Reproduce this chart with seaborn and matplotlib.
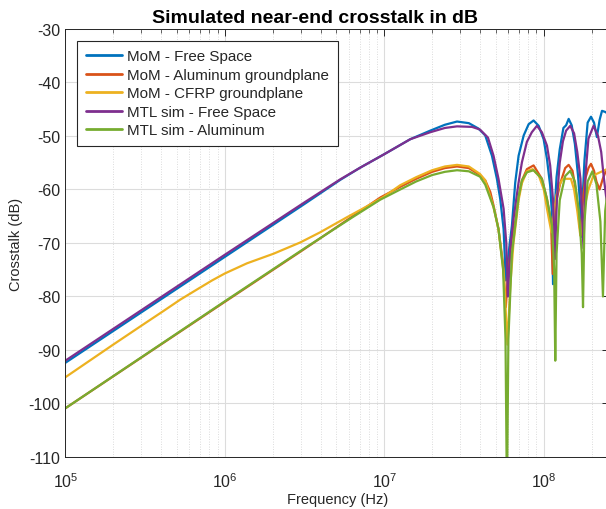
import numpy as np
import pandas as pd
import matplotlib
matplotlib.use("Agg")
import matplotlib.pyplot as plt
import seaborn as sns
from matplotlib.ticker import LogLocator, NullFormatter

# ---- data (log10 of frequency in Hz, crosstalk in dB) ----
series_names = ["MoM - Free Space", "MoM - Aluminum groundplane",
                "MoM - CFRP groundplane", "MTL sim - Free Space", "MTL sim - Aluminum"]
colors = ["#0072BD", "#D95319", "#EDB120", "#7E2F8E", "#77AC30"]

logf_mom_free = [5.0, 6.0, 6.5, 6.724, 6.85, 7.0, 7.163, 7.288, 7.38, 7.456, 7.53, 7.59,
                 7.633, 7.675, 7.706, 7.727, 7.748, 7.762, 7.785, 7.80, 7.821, 7.842, 7.874,
                 7.905, 7.936, 7.968, 7.999, 8.02, 8.04, 8.05, 8.058, 8.068, 8.08, 8.10,
                 8.123, 8.14, 8.156, 8.175, 8.195, 8.215, 8.226, 8.234, 8.243, 8.255, 8.275,
                 8.296, 8.315, 8.333, 8.35, 8.365, 8.385, 8.41]
db_mom_free = [-92.4, -72.6, -62.7, -58.2, -55.9, -53.4, -50.6, -49.0, -47.9, -47.3, -47.6, -48.6,
               -49.9, -53.7, -58.0, -61.8, -67.4, -77.0, -70.5, -66.8, -58.7, -53.7, -49.9,
               -47.8, -47.1, -48.1, -50.6, -54.3, -59.3, -64.0, -77.7, -64.0, -57.7, -52.5,
               -48.5, -48.0, -46.8, -48.0, -51.5, -57.5, -62.0, -68.9, -62.0, -54.6, -47.5,
               -46.4, -47.5, -50.2, -47.0, -45.3, -45.5, -46.0]

logf_mom_alu = [5.0, 6.0, 6.5, 6.975, 7.1, 7.2, 7.3, 7.38, 7.456, 7.53, 7.60, 7.633, 7.665,
                7.685, 7.716, 7.745, 7.762, 7.775, 7.80, 7.821, 7.842, 7.863, 7.894, 7.936,
                7.988, 8.02, 8.045, 8.056, 8.065, 8.08, 8.102, 8.134, 8.156, 8.18, 8.20,
                8.215, 8.232, 8.245, 8.26, 8.28, 8.296, 8.315, 8.33, 8.35, 8.37, 8.39, 8.41]
db_mom_alu = [-100.9, -81.0, -71.1, -61.5, -59.5, -58.0, -56.7, -56.0, -55.7, -56.0, -57.3, -58.3, -60.5,
              -63.0, -67.4, -74.0, -82.0, -76.0, -69.0, -66.0, -61.4, -58.3, -56.2, -55.5,
              -58.0, -61.8, -66.0, -75.8, -68.0, -62.0, -59.0, -56.0, -55.4, -56.5, -60.0,
              -64.0, -68.6, -62.0, -58.0, -56.0, -55.2, -56.5, -58.5, -60.0, -58.0, -56.5, -56.0]

logf_mom_cfrp = [5.0, 5.3, 5.5, 5.616, 5.72, 5.825, 5.92, 6.0, 6.139, 6.306, 6.473, 6.598,
                 6.765, 6.9, 6.995, 7.1, 7.2, 7.3, 7.38, 7.456, 7.53, 7.60, 7.633, 7.685,
                 7.716, 7.75, 7.772, 7.79, 7.81, 7.842, 7.863, 7.894, 7.93, 7.97, 8.00, 8.02,
                 8.048, 8.065, 8.08, 8.10, 8.12, 8.17, 8.19, 8.21, 8.229, 8.25, 8.28, 8.31,
                 8.33, 8.41]
db_mom_cfrp = [-95.1, -89.0, -85.0, -82.7, -80.6, -78.7, -77.0, -75.7, -73.8, -72.0, -69.9, -68.0,
               -65.2, -63.0, -61.4, -59.2, -57.7, -56.4, -55.7, -55.4, -55.7, -57.1, -58.3, -63.3,
               -67.4, -76.0, -89.0, -78.0, -70.0, -62.0, -58.8, -56.6, -56.2, -57.5, -60.0, -63.6,
               -68.0, -64.0, -61.0, -59.0, -58.0, -58.0, -60.0, -64.0, -68.6, -64.0, -60.0, -57.5,
               -57.1, -56.0]

logf_mtl_free = [5.0, 6.0, 6.5, 6.724, 6.85, 7.0, 7.163, 7.288, 7.38, 7.456, 7.55, 7.60, 7.65,
                 7.685, 7.716, 7.748, 7.765, 7.775, 7.79, 7.81, 7.842, 7.863, 7.894, 7.925,
                 7.957, 7.988, 8.02, 8.04, 8.058, 8.07, 8.082, 8.10, 8.12, 8.14, 8.166, 8.19,
                 8.21, 8.23, 8.249, 8.262, 8.28, 8.312, 8.34, 8.36, 8.376, 8.41]
db_mtl_free = [-92.0, -72.2, -62.4, -58.1, -55.9, -53.4, -50.6, -49.3, -48.5, -48.2, -48.3, -48.8, -50.3,
               -53.7, -58.0, -63.6, -70.0, -80.0, -71.0, -65.5, -58.7, -54.9, -51.1, -49.3,
               -48.1, -49.3, -51.8, -55.5, -62.0, -73.0, -62.0, -55.0, -51.0, -49.0, -48.1, -49.5,
               -53.0, -58.0, -71.0, -57.0, -50.5, -48.1, -50.0, -53.0, -57.7, -66.0]

logf_mtl_alu = [5.0, 6.0, 6.5, 6.8, 6.975, 7.1, 7.2, 7.3, 7.38, 7.456, 7.53, 7.60, 7.633,
                7.685, 7.716, 7.745, 7.76, 7.769, 7.778, 7.80, 7.821, 7.842, 7.863, 7.894,
                7.936, 7.988, 8.02, 8.052, 8.065, 8.072, 8.08, 8.10, 8.134, 8.166, 8.195, 8.22,
                8.238, 8.246, 8.255, 8.275, 8.305, 8.33, 8.355, 8.371, 8.385, 8.41]
db_mtl_alu = [-100.9, -80.9, -71.0, -65.2, -61.9, -60.0, -58.5, -57.3, -56.7, -56.4, -56.6, -57.6, -59.1,
              -63.3, -67.4, -75.0, -88.0, -118.0, -88.0, -72.0, -66.7, -61.4, -58.3, -56.8,
              -56.4, -58.0, -61.8, -66.8, -75.0, -92.0, -72.0, -62.0, -57.5, -56.5, -58.5, -64.0,
              -72.0, -82.0, -66.0, -58.5, -56.6, -59.0, -66.0, -80.0, -64.0, -58.0]

y_ticks = [-110, -100, -90, -80, -70, -60, -50, -40, -30]

# ---- long-form table ----
frames = []
for name, lf, db in zip(series_names,
                        [logf_mom_free, logf_mom_alu, logf_mom_cfrp, logf_mtl_free, logf_mtl_alu],
                        [db_mom_free, db_mom_alu, db_mom_cfrp, db_mtl_free, db_mtl_alu]):
    frames.append(pd.DataFrame({"Frequency": np.power(10.0, lf), "dB": db, "series": name}))
df = pd.concat(frames, ignore_index=True)

sns.set_theme(style="white")
plt.rcParams["font.family"] = ["Liberation Sans", "DejaVu Sans"]

fig = plt.figure(figsize=(6.06, 5.10), dpi=100)
ax = fig.add_axes([0.1078, 0.102, 0.8977, 0.8392])

sns.lineplot(data=df, x="Frequency", y="dB", hue="series", hue_order=series_names,
             palette=colors, estimator=None, sort=True, linewidth=1.6, ax=ax)

ax.set_xscale("log")
ax.set_xlim(1e5, 10 ** 8.411)
ax.set_ylim(-110, -30)
ax.set_yticks(y_ticks)
ax.set_yticklabels([str(v) for v in y_ticks])
ax.xaxis.set_major_locator(LogLocator(base=10, numticks=10))
ax.xaxis.set_minor_locator(LogLocator(base=10, subs=np.arange(2, 10), numticks=100))
ax.xaxis.set_minor_formatter(NullFormatter())

ax.grid(True, which="major", color="#dcdcdc", linewidth=0.8, linestyle="-")
ax.grid(True, which="minor", axis="x", color="#d0d0d0", linewidth=0.6, linestyle=(0, (1, 2)))
ax.set_axisbelow(True)

for s in ax.spines.values():
    s.set_color("#262626")
    s.set_linewidth(0.7)
ax.tick_params(axis="both", which="both", direction="in", top=True, right=True,
               colors="#262626", labelsize=11.5)
ax.tick_params(which="major", length=5, width=0.7)
ax.tick_params(which="minor", length=3, width=0.5)
ax.tick_params(axis="x", pad=10)

ax.set_xlabel("Frequency (Hz)", fontsize=10.5, color="#262626", labelpad=2)
ax.set_ylabel("Crosstalk (dB)", fontsize=10.5, color="#262626", labelpad=4)
ax.set_title("Simulated near-end crosstalk in dB", fontsize=14, fontweight="bold",
             color="black", pad=5, x=0.459)

leg = ax.legend(loc="upper left", bbox_to_anchor=(0.022, 0.972), fontsize=10.9,
                frameon=True, fancybox=False, framealpha=1, edgecolor="#262626",
                handlelength=2.43, handletextpad=0.33, borderpad=0.55, labelspacing=0.3,
                borderaxespad=0)
leg.get_frame().set_linewidth(0.8)
for line in leg.get_lines():
    line.set_linewidth(2.0)

fig.savefig("out.png", dpi=100)
